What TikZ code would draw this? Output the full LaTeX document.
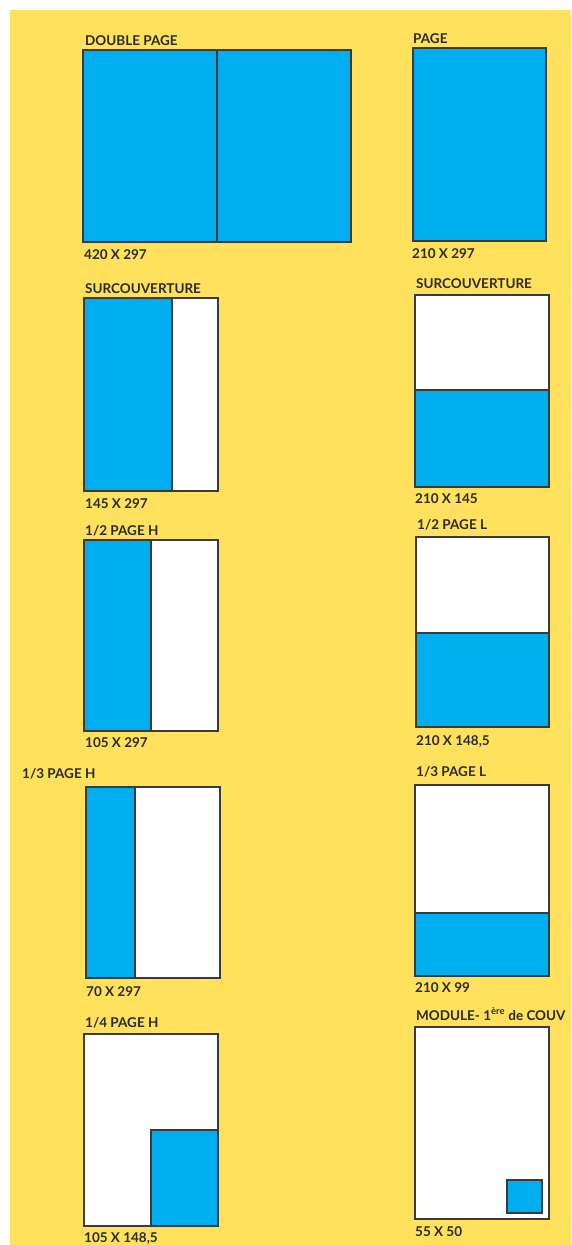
\documentclass[tikz,border=0pt]{standalone}
\usepackage{fontspec}
\setmainfont{Lato}
\definecolor{bgyellow}{HTML}{FFE15E}
\definecolor{pageblue}{HTML}{00AEEF}
\definecolor{edge}{HTML}{3A3A3A}
\definecolor{txt}{HTML}{2B2B2B}
\tikzset{
  pagebox/.style={draw=edge, line width=1.2pt, fill=white},
  bluefill/.style={fill=pageblue},
  blueedge/.style={draw=edge, line width=1.2pt, fill=pageblue},
  sep/.style={draw=edge, line width=1.2pt},
  lbl/.style={anchor=base west, inner sep=0pt, text=txt, font=\bfseries\fontsize{13.5}{14}\selectfont}
}
\begin{document}
\begin{tikzpicture}[x=1pt,y=-1pt]
\useasboundingbox (0,0) rectangle (571,1245);
\clip (0,0) rectangle (571,1245);
\fill[white] (0,0) rectangle (571,1245);
\fill[bgyellow] (10,10) rectangle (571,1245);

% DOUBLE PAGE
\node[lbl] (tDP) at (85,45) {DOUBLE PAGE};
\fill[bluefill] (83,50) rectangle (351,242);
\draw[sep] (217,50) -- (217,242);
\draw[draw=edge, line width=1.2pt] (83,50) rectangle (351,242);
\node[lbl] (dDP) at (84,259) {420 X 297};

% PAGE
\node[lbl] (tP) at (413,43) {PAGE};
\draw[blueedge] (413,48) rectangle (546,241);
\node[lbl] (dP) at (412,258) {210 X 297};

% SURCOUVERTURE left
\node[lbl] (tS1) at (85,293) {SURCOUVERTURE};
\draw[pagebox] (84,298) rectangle (218,491);
\fill[bluefill] (84,298) rectangle (172,491);
\draw[sep] (172,298) -- (172,491);
\draw[draw=edge, line width=1.2pt] (84,298) rectangle (218,491);
\node[lbl] (dS1) at (85,508) {145 X 297};

% SURCOUVERTURE right
\node[lbl] (tS2) at (416,288) {SURCOUVERTURE};
\draw[pagebox] (415,295) rectangle (549,487);
\fill[bluefill] (415,390) rectangle (549,487);
\draw[sep] (415,390) -- (549,390);
\draw[draw=edge, line width=1.2pt] (415,295) rectangle (549,487);
\node[lbl] (dS2) at (415,503) {210 X 145};

% 1/2 PAGE H
\node[lbl] (tHH) at (85,535) {1/2 PAGE H};
\draw[pagebox] (84,540) rectangle (218,731);
\fill[bluefill] (84,540) rectangle (151,731);
\draw[sep] (151,540) -- (151,731);
\draw[draw=edge, line width=1.2pt] (84,540) rectangle (218,731);
\node[lbl] (dHH) at (85,747) {105 X 297};

% 1/2 PAGE L
\node[lbl] (tHL) at (417,529) {1/2 PAGE L};
\draw[pagebox] (416,537) rectangle (549,727);
\fill[bluefill] (416,633) rectangle (549,727);
\draw[sep] (416,633) -- (549,633);
\draw[draw=edge, line width=1.2pt] (416,537) rectangle (549,727);
\node[lbl] (dHL) at (416,745) {210 X 148,5};

% 1/3 PAGE H
\node[lbl] (tTH) at (22,778) {1/3 PAGE H};
\draw[pagebox] (86,787) rectangle (220,978);
\fill[bluefill] (86,787) rectangle (135,978);
\draw[sep] (135,787) -- (135,978);
\draw[draw=edge, line width=1.2pt] (86,787) rectangle (220,978);
\node[lbl] (dTH) at (86,996) {70 X 297};

% 1/3 PAGE L
\node[lbl] (tTL) at (416,776) {1/3 PAGE L};
\draw[pagebox] (415,785) rectangle (549,976);
\fill[bluefill] (415,913) rectangle (549,976);
\draw[sep] (415,913) -- (549,913);
\draw[draw=edge, line width=1.2pt] (415,785) rectangle (549,976);
\node[lbl] (dTL) at (415,992) {210 X 99};

% 1/4 PAGE H
\node[lbl] (tQH) at (85,1027) {1/4 PAGE H};
\draw[pagebox] (84,1034) rectangle (218,1226);
\draw[blueedge] (151,1130) rectangle (218,1226);
\draw[draw=edge, line width=1.2pt] (84,1034) rectangle (218,1226);
\node[lbl] (dQH) at (84,1242) {105 X 148,5};

% MODULE
\node[lbl] (tM) at (416,1020) {MODULE- 1\textsuperscript{ère} de COUV};
\draw[pagebox] (415,1027) rectangle (549,1219);
\draw[blueedge] (507,1180) rectangle (542,1213);
\node[lbl] (dM) at (415,1236) {55 X 50};
\end{tikzpicture}
\end{document}
